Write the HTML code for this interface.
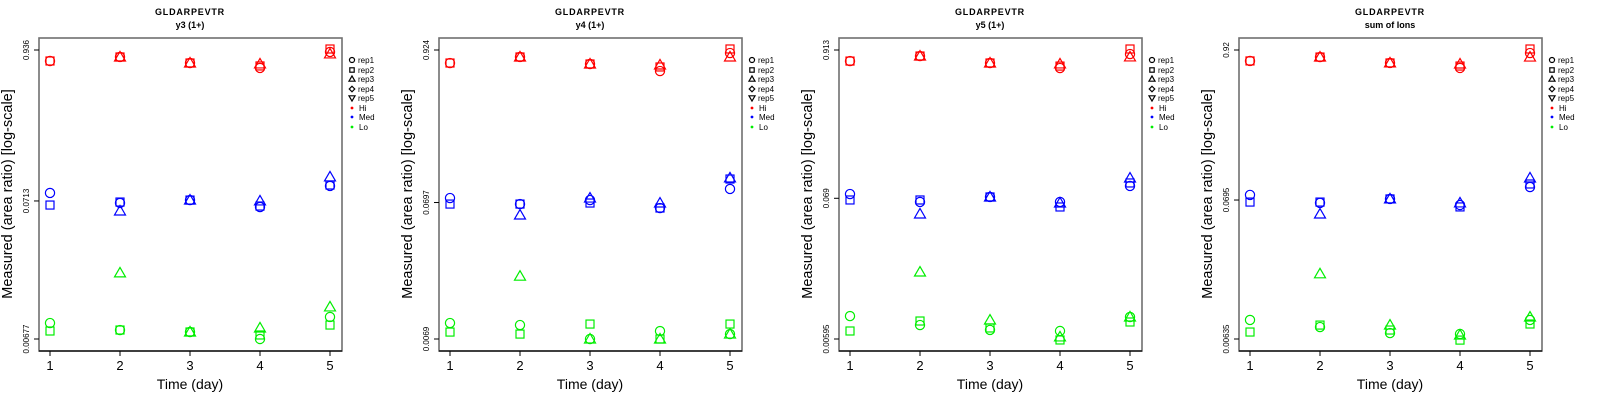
<!DOCTYPE html>
<html><head><meta charset="utf-8"><style>
html,body{margin:0;padding:0;background:#fff;}
svg{display:block;font-family:"Liberation Sans",sans-serif;}
</style></head><body>
<svg id="chart" width="1600" height="400" viewBox="0 0 1600 400" xmlns="http://www.w3.org/2000/svg"></svg>
<script>
const days = [1, 2, 3, 4, 5];
const panelTitles = ["y3 (1+)", "y4 (1+)", "y5 (1+)", "sum of Ions"];
const yMax = [0.936, 0.924, 0.913, 0.92];
const yMid = [0.0713, 0.0697, 0.069, 0.0695];
const yMin = [0.00677, 0.0069, 0.00595, 0.00635];
const yTickLabels = [["0.936","0.0713","0.00677"],["0.924","0.0697","0.0069"],["0.913","0.069","0.00595"],["0.92","0.0695","0.00635"]];
const groups = ["Hi", "Med", "Lo"];
const reps = ["rep1", "rep2", "rep3", "rep4", "rep5"];
// panel 1
const p1HiRep1 = [0.776,0.831,0.750,0.689,0.905];
const p1HiRep2 = [0.776,0.831,0.750,0.713,0.952];
const p1HiRep3 = [null,0.831,0.750,0.738,0.875];
const p1MedRep1 = [0.0817,0.0689,0.0724,0.0643,0.0921];
const p1MedRep2 = [0.0665,0.0700,0.0724,0.0654,0.0936];
const p1MedRep3 = [null,0.0601,0.0724,0.0713,0.1074];
const p1LoRep1 = [0.00889,0.00789,0.00763,0.00677,0.00986];
const p1LoRep2 = [0.00776,0.00789,0.00763,0.00725,0.00859];
const p1LoRep3 = [null,0.0209,0.00763,0.00817,0.0117];
// panel 2
const p2HiRep1 = [0.741,0.821,0.729,0.647,0.878];
const p2HiRep2 = [0.741,0.821,0.729,0.693,0.940];
const p2HiRep3 = [null,0.821,0.729,0.717,0.821];
const p2MedRep1 = [0.0752,0.0679,0.0727,0.0635,0.0877];
const p2MedRep2 = [0.0679,0.0679,0.0691,0.0635,0.1038];
const p2MedRep3 = [null,0.0564,0.0752,0.0691,0.1057];
const p2LoRep1 = [0.00904,0.00874,0.0069,0.00789,0.00750];
const p2LoRep2 = [0.00776,0.00750,0.00889,0.0069,0.00889];
const p2LoRep3 = [null,0.0200,0.0069,0.0069,0.00750];
// panel 3
const p3HiRep1 = [0.753,0.822,0.728,0.667,0.851];
const p3HiRep2 = [0.753,0.822,0.728,0.690,0.929];
const p3HiRep3 = [null,0.822,0.728,0.716,0.809];
const p3MedRep1 = [0.0743,0.0647,0.0706,0.0647,0.0855];
const p3MedRep2 = [0.0670,0.0670,0.0706,0.0593,0.0901];
const p3MedRep3 = [null,0.0525,0.0706,0.0636,0.0982];
const p3LoRep1 = [0.00887,0.00759,0.00697,0.00684,0.00873];
const p3LoRep2 = [0.00684,0.00814,0.00721,0.00585,0.00800];
const p3LoRep3 = [null,0.0191,0.00828,0.00617,0.00873];
// panel 4
const p4HiRep1 = [0.762,0.815,0.736,0.675,0.873];
const p4HiRep2 = [0.762,0.815,0.736,0.698,0.936];
const p4HiRep3 = [null,0.815,0.736,0.723,0.815];
const p4MedRep1 = [0.0759,0.0661,0.0708,0.0638,0.0869];
const p4MedRep2 = [0.0671,0.0671,0.0708,0.0617,0.0916];
const p4MedRep3 = [null,0.0546,0.0708,0.0661,0.1016];
const p4LoRep1 = [0.00881,0.00780,0.00703,0.00692,0.00881];
const p4LoRep2 = [0.00716,0.00807,0.00741,0.00623,0.00822];
const p4LoRep3 = [null,0.0195,0.00807,0.00680,0.00927];

const panelData = [
  [[p1HiRep1,p1HiRep2,p1HiRep3],[p1MedRep1,p1MedRep2,p1MedRep3],[p1LoRep1,p1LoRep2,p1LoRep3]],
  [[p2HiRep1,p2HiRep2,p2HiRep3],[p2MedRep1,p2MedRep2,p2MedRep3],[p2LoRep1,p2LoRep2,p2LoRep3]],
  [[p3HiRep1,p3HiRep2,p3HiRep3],[p3MedRep1,p3MedRep2,p3MedRep3],[p3LoRep1,p3LoRep2,p3LoRep3]],
  [[p4HiRep1,p4HiRep2,p4HiRep3],[p4MedRep1,p4MedRep2,p4MedRep3],[p4LoRep1,p4LoRep2,p4LoRep3]]
];
const colors = ["#ff0000", "#0000ff", "#00ee00"];

const NS = "http://www.w3.org/2000/svg";
const svg = document.getElementById("chart");
function mk(tag, attrs, parent) {
  const e = document.createElementNS(NS, tag);
  for (const k in attrs) e.setAttribute(k, attrs[k]);
  (parent || svg).appendChild(e);
  return e;
}
function marker(shape, cx, cy, s, col, parent) {
  let e;
  if (shape === 0) e = mk("circle", {cx: cx, cy: cy, r: 4.6*s, fill: "none", stroke: col, "stroke-width": 1.2}, parent);
  else if (shape === 1) e = mk("rect", {x: cx-4*s, y: cy-4*s, width: 8*s, height: 8*s, fill: "none", stroke: col, "stroke-width": 1.2}, parent);
  else if (shape === 2) e = mk("polygon", {points: `${cx},${cy-5.5*s} ${cx-5.5*s},${cy+4*s} ${cx+5.5*s},${cy+4*s}`, fill: "none", stroke: col, "stroke-width": 1.2}, parent);
  else if (shape === 3) e = mk("polygon", {points: `${cx},${cy-5*s} ${cx+5*s},${cy} ${cx},${cy+5*s} ${cx-5*s},${cy}`, fill: "none", stroke: col, "stroke-width": 1.2}, parent);
  else e = mk("polygon", {points: `${cx},${cy+5.5*s} ${cx-5.5*s},${cy-4*s} ${cx+5.5*s},${cy-4*s}`, fill: "none", stroke: col, "stroke-width": 1.2}, parent);
  return e;
}

for (let p = 0; p < 4; p++) {
  const ox = p * 400;
  const g = mk("g", {transform: `translate(${ox},0)`});
  
  
  const L = 39, R = 342, T = 38, B = 351;
  const xScale = d => 50 + (d - 1) * 70;
  const lmax = Math.log10(yMax[p]), lmin = Math.log10(yMin[p]);
  const yScale = v => 50 + (lmax - Math.log10(v)) / (lmax - lmin) * 289;

  // titles
  const t1 = mk("text", {x: 190, y: 15, "text-anchor": "middle", "font-size": 9, "font-weight": "bold", "letter-spacing": "0.8"}, g);
  t1.textContent = "GLDARPEVTR";
  
  
  const t2 = mk("text", {x: 190, y: 28, "text-anchor": "middle", "font-size": 9, "font-weight": "bold"}, g);
  t2.textContent = panelTitles[p];
  
  

  // box
  const box = mk("rect", {x: L, y: T, width: R - L, height: B - T, fill: "none", stroke: "#707070", "stroke-width": 1.6}, g);
  
  
  mk("line", {x1: L, y1: B, x2: R, y2: B, stroke: "#000", "stroke-width": 1.2}, g);

  // x axis
  days.forEach(d => {
    const x = xScale(d);
    mk("line", {x1: x, y1: B, x2: x, y2: B + 5, stroke: "#000", "stroke-width": 1}, g);
    const tl = mk("text", {x: x, y: 370, "text-anchor": "middle", "font-size": 13}, g);
    tl.textContent = d;
    
    
  });
  const xt = mk("text", {x: 190, y: 389, "text-anchor": "middle", "font-size": 14}, g);
  xt.textContent = "Time (day)";
  
  

  // y axis
  [yMax[p], yMid[p], yMin[p]].forEach((v, i) => {
    const y = yScale(v);
    mk("line", {x1: L - 5, y1: y, x2: L, y2: y, stroke: "#000", "stroke-width": 1}, g);
    const tl = mk("text", {x: 0, y: 0, "text-anchor": "middle", "font-size": 8, transform: `translate(29,${y}) rotate(-90)`}, g);
    tl.textContent = yTickLabels[p][i];
    
    
  });
  const yt = mk("text", {x: 0, y: 0, "text-anchor": "middle", "font-size": 14.5, transform: `translate(12,194) rotate(-90)`}, g);
  yt.textContent = "Measured (area ratio) [log-scale]";
  
  

  // points
  panelData[p].forEach((grp, gi) => {
    grp.forEach((series, ri) => {
      series.forEach((v, di) => {
        if (v === null) return;
        const m = marker(ri, xScale(days[di]), yScale(v), 1, colors[gi], g);
        
        
      });
    });
  });

  // legend
  const lg = mk("g", {}, g);
  
  
  const rowsY = [60, 70, 79, 89, 98, 108, 117, 127];
  reps.forEach((r, i) => {
    const m = marker(i, 352, rowsY[i], 0.55, "#000", lg);
    
    
    const tx = mk("text", {x: 358, y: rowsY[i] + 3, "font-size": 8}, lg);
    tx.textContent = r;
    
    
  });
  groups.forEach((gr, i) => {
    const y = rowsY[5 + i];
    const d = mk("circle", {cx: 352, cy: y, r: 1.4, fill: colors[i]}, lg);
    
    
    const tx = mk("text", {x: 359, y: y + 3, "font-size": 8}, lg);
    tx.textContent = gr;
    
    
  });
}
</script>
</body></html>
